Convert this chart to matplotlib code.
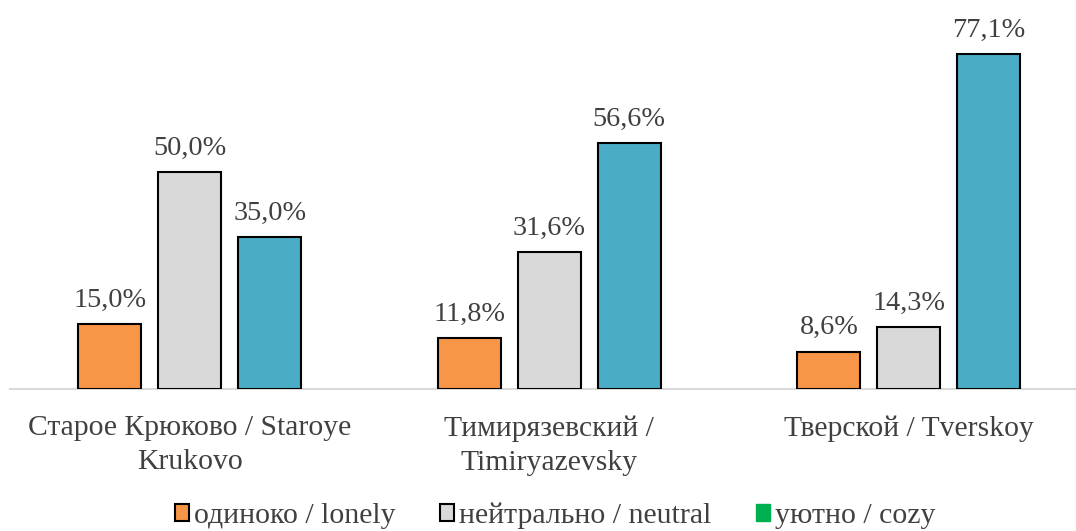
import numpy as np
import matplotlib.pyplot as plt
from matplotlib.patches import Patch

# DATA
districts = ["Старое Крюково / Staroye\nKrukovo", "Тимирязевский /\nTimiryazevsky", "Тверской / Tverskoy"]
series_names = ["одиноко / lonely", "нейтрально / neutral", "уютно / cozy"]
lonely = [15.0, 11.8, 8.6]
neutral = [50.0, 31.6, 14.3]
cozy = [35.0, 56.6, 77.1]

bar_colors = ["#F79646", "#D9D9D9", "#4BACC6"]
legend_colors = ["#F79646", "#D9D9D9", "#00B050"]
text_col = "#404040"

plt.rcParams["font.family"] = ["Liberation Serif", "DejaVu Serif"]

fig = plt.figure(figsize=(10.76, 5.31), dpi=100)
ax = fig.add_axes([10 / 1076, 1 - 389 / 531, 1066 / 1076, 369 / 531])

x = np.arange(len(districts))
width = 0.175
step = 0.2225
for i, vals in enumerate([lonely, neutral, cozy]):
    bars = ax.bar(x + (i - 1) * step, vals, width, color=bar_colors[i],
                  edgecolor="black", linewidth=1.5, zorder=3)
    for b, v in zip(bars, vals):
        ax.text(b.get_x() + b.get_width() / 2, v + 2.6, f"{v:.1f}%".replace(".", ","),
                ha="center", va="bottom", fontsize=20.3, color=text_col)

ax.set_xlim(-0.5, 2.465)
ax.set_ylim(0, 85)
for s in ["top", "right", "left"]:
    ax.spines[s].set_visible(False)
ax.spines["bottom"].set_color("#D9D9D9")
ax.spines["bottom"].set_linewidth(1.5)
ax.set_yticks([])
ax.set_xticks(x)
ax.set_xticklabels(districts, fontsize=21.3, color=text_col, linespacing=1.4)
ax.tick_params(axis="x", length=0, pad=19)

handles = [Patch(facecolor=legend_colors[0], edgecolor="black", linewidth=1.5),
           Patch(facecolor=legend_colors[1], edgecolor="black", linewidth=1.5),
           Patch(facecolor=legend_colors[2], edgecolor=legend_colors[2])]
leg = fig.legend(handles, series_names, loc="lower center", bbox_to_anchor=(0.516, -0.047),
                 ncol=3, frameon=False, fontsize=21.5, handlelength=0.47, handleheight=0.47,
                 handletextpad=0.15, columnspacing=1.5)
for t in leg.get_texts():
    t.set_color(text_col)

fig.savefig("out.png", dpi=100)
